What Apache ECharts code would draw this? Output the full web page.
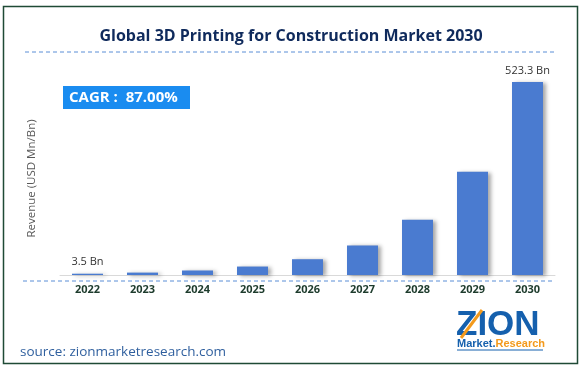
<!DOCTYPE html>
<html><head><meta charset="utf-8">
<script src="https://cdn.jsdelivr.net/npm/echarts@6/dist/echarts.min.js"></script>
<style>html,body{margin:0;padding:0;background:#fff}#c{width:582px;height:371px}</style>
</head><body><div id="c"></div>
<script>
var years = ['2022','2023','2024','2025','2026','2027','2028','2029','2030'];
var revenue = [3.5, 6.5, 12.2, 22.9, 42.8, 80.0, 149.6, 279.8, 523.3];
var labelText = ['3.5 Bn','','','','','','','','523.3 Bn'];
var titleText = 'Global 3D Printing for Construction Market 2030';
var cagrText = 'CAGR :  87.00%';
var yName = 'Revenue (USD Mn/Bn)';
var sourceText = 'source: zionmarketresearch.com';

var chart = echarts.init(document.getElementById('c'), null, {renderer:'canvas'});
var font = 'Open Sans, Liberation Sans, sans-serif';
chart.setOption({
  animation:false,
  backgroundColor:'#fff',
  grid:{left:60, right:27, top:82, bottom:96, containLabel:false},
  xAxis:{type:'category', data:years,
    axisLine:{lineStyle:{color:'#d9d9d9', width:1}}, axisTick:{show:false},
    axisLabel:{color:'#1d3b2c', fontWeight:'bold', fontSize:11, fontFamily:font, margin:9}},
  yAxis:{type:'value', min:0, max:523.3, show:true,
    axisLine:{show:false}, axisTick:{show:false}, axisLabel:{show:false}, splitLine:{show:false},
    name:yName, nameLocation:'middle', nameGap:22, nameRotate:90,
    nameTextStyle:{color:'#595959', fontSize:11.5, fontFamily:font}},
  series:[{type:'bar', data:revenue, barWidth:31,
    itemStyle:{color:'#4a7bd0', shadowColor:'rgba(0,0,0,0.35)', shadowBlur:4, shadowOffsetX:3, shadowOffsetY:1},
    label:{show:true, position:'top', distance:6, color:'#333', fontSize:11, fontFamily:font,
      formatter:function(p){return labelText[p.dataIndex];}}
  }],
  graphic:[
    {type:'rect', shape:{x:3.5,y:6.5,width:574,height:357}, style:{fill:'none', stroke:'#1f4a35', lineWidth:1.5}, z:10},
    {type:'text', left:'center', top:28, style:{text:titleText, fill:'#0f2a5c', font:'bold 16px '+font}},
    {type:'line', shape:{x1:25,y1:52,x2:555,y2:52}, style:{stroke:'#5b8ed6', lineWidth:1, lineDash:[4,3]}},
    {type:'line', shape:{x1:23,y1:281,x2:555,y2:281}, style:{stroke:'#5b8ed6', lineWidth:1, lineDash:[4,3]}},
    {type:'rect', shape:{x:63,y:86,width:127,height:23}, style:{fill:'#1a8cf0'}},
    {type:'text', x:69, y:97.5, style:{text:cagrText, fill:'#fff', font:'bold 15px '+font, textVerticalAlign:'middle'}},
    {type:'text', x:20, y:352, style:{text:sourceText, fill:'#2f5f9e', font:'13.5px '+font, textVerticalAlign:'middle'}},
    {type:'text', x:456, y:325, style:{text:'ZION', fill:'#1560ad', font:'bold 35px Liberation Sans, sans-serif', textVerticalAlign:'middle'}},
    {type:'line', shape:{x1:461,y1:338,x2:482,y2:310}, style:{stroke:'#f39a1c', lineWidth:3}},
    {type:'text', x:457, y:344, style:{rich:{a:{fill:'#1560ad', font:'bold 11px Liberation Sans, sans-serif'}, b:{fill:'#f39a1c', font:'bold 11px Liberation Sans, sans-serif'}}, text:'{a|Market.}{b|Research}', textVerticalAlign:'middle'}},
    {type:'line', shape:{x1:457,y1:350,x2:543,y2:350}, style:{stroke:'#1560ad', lineWidth:1}}
  ]
});
</script></body></html>
